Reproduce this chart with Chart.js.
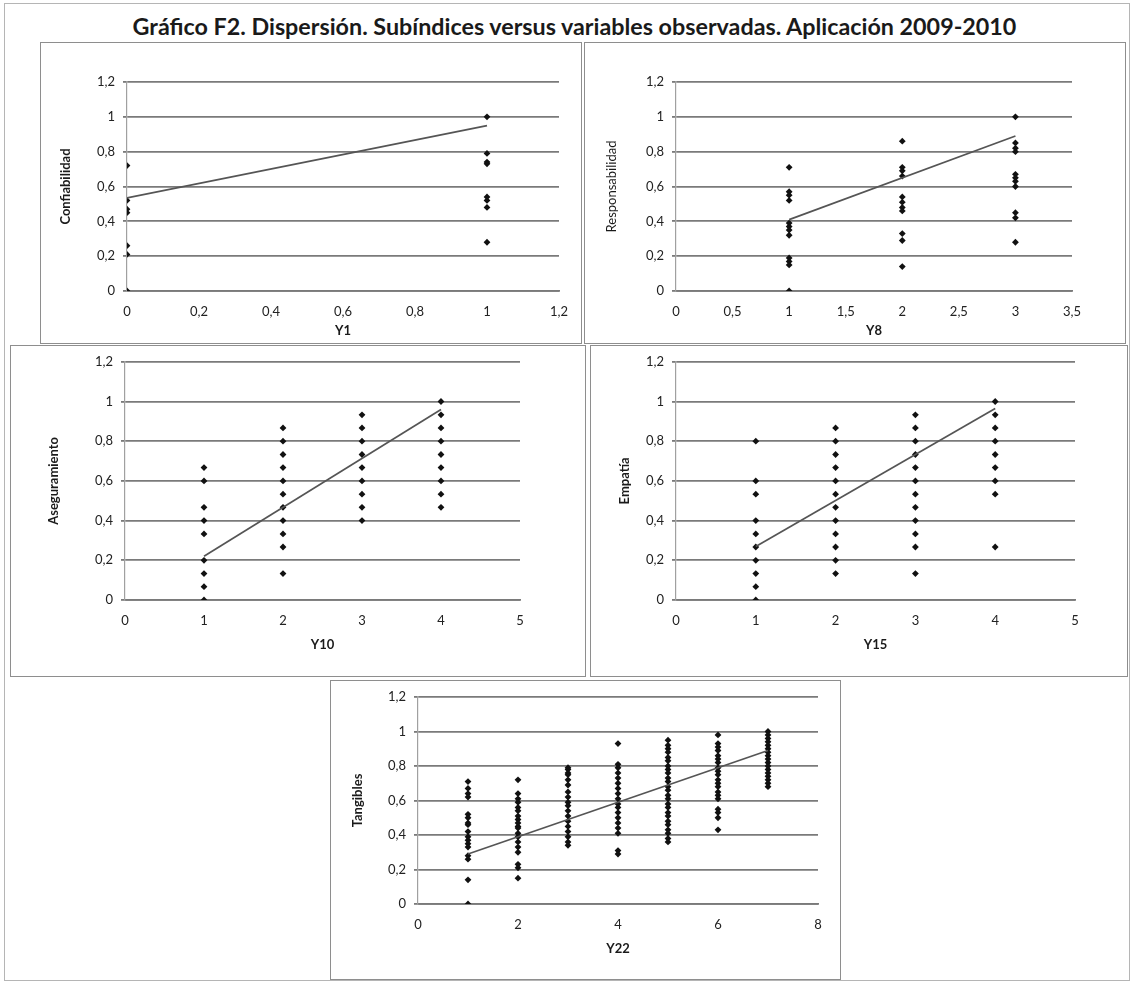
<!DOCTYPE html>
<html>
<head>
<meta charset="utf-8">
<script src="https://cdn.jsdelivr.net/npm/chart.js@4.4.1/dist/chart.umd.min.js"></script>
<style>
  html, body { margin: 0; padding: 0; background: #fff; }
  body { width: 1133px; height: 983px; position: relative; overflow: hidden; font-family: Lato, "Open Sans", sans-serif; }
  #frame { position: absolute; left: 4px; top: 3px; width: 1124px; height: 976px; border: 1px solid #b5b5b5; }
  #title { position: absolute; left: 8px; top: 12px; width: 1133px; text-align: center; font-weight: bold; font-size: 23.3px; color: #1a1a1a; }
  .panel { position: absolute; border: 1px solid #8e8e8e; background: #fff; }
  .panel canvas { display: block; }
</style>
</head>
<body>
<div id="frame"></div>
<div id="title">Gráfico F2. Dispersión. Subíndices versus variables observadas. Aplicación 2009-2010</div>

<script>
// ======================================
// DATOS
// ======================================

// Confiabilidad vs Y1
const y1Levels = [0, 1];
const confiabilidad = [
    [0.72, 0.52, 0.47, 0.45, 0.26, 0.21, 0],
    [1, 0.79, 0.74, 0.73, 0.54, 0.52, 0.48, 0.28]
];
const confiabilidadTrend = [0.535, 0.95];

// Responsabilidad vs Y8
const y8Levels = [1, 2, 3];
const responsabilidad = [
    [0.71, 0.57, 0.55, 0.52, 0.39, 0.37, 0.35, 0.32, 0.19, 0.17, 0.15, 0],
    [0.86, 0.71, 0.69, 0.66, 0.54, 0.51, 0.48, 0.46, 0.33, 0.29, 0.14],
    [1, 0.85, 0.82, 0.8, 0.67, 0.65, 0.63, 0.6, 0.45, 0.42, 0.28]
];
const responsabilidadTrend = [0.41, 0.89];

// Aseguramiento vs Y10
const y10Levels = [1, 2, 3, 4];
const aseguramiento = [
    [0.667, 0.6, 0.467, 0.4, 0.333, 0.2, 0.133, 0.067, 0],
    [0.867, 0.8, 0.733, 0.667, 0.6, 0.533, 0.467, 0.4, 0.333, 0.267, 0.133],
    [0.933, 0.867, 0.8, 0.733, 0.667, 0.6, 0.533, 0.467, 0.4],
    [1, 0.933, 0.867, 0.8, 0.733, 0.667, 0.6, 0.533, 0.467]
];
const aseguramientoTrend = [0.22, 0.96];

// Empatía vs Y15
const y15Levels = [1, 2, 3, 4];
const empatia = [
    [0.8, 0.6, 0.533, 0.4, 0.333, 0.267, 0.2, 0.133, 0.067, 0],
    [0.867, 0.8, 0.733, 0.667, 0.6, 0.533, 0.467, 0.4, 0.333, 0.267, 0.2, 0.133],
    [0.933, 0.867, 0.8, 0.733, 0.667, 0.6, 0.533, 0.467, 0.4, 0.333, 0.267, 0.133],
    [1, 0.933, 0.867, 0.8, 0.733, 0.667, 0.6, 0.533, 0.267]
];
const empatiaTrend = [0.27, 0.965];

// Tangibles vs Y22
const y22Levels = [1, 2, 3, 4, 5, 6, 7];
const tangibles = [
    [0.71, 0.67, 0.64, 0.62, 0.52, 0.5, 0.47, 0.46, 0.42, 0.39, 0.37, 0.35, 0.33, 0.28, 0.26, 0.14, 0],
    [0.72, 0.64, 0.61, 0.59, 0.56, 0.54, 0.51, 0.49, 0.47, 0.45, 0.44, 0.41, 0.39, 0.36, 0.33, 0.3, 0.23, 0.21, 0.15],
    [0.79, 0.78, 0.76, 0.75, 0.72, 0.69, 0.65, 0.62, 0.59, 0.57, 0.54, 0.51, 0.48, 0.45, 0.42, 0.39, 0.36, 0.34],
    [0.93, 0.81, 0.79, 0.76, 0.73, 0.7, 0.67, 0.64, 0.61, 0.58, 0.56, 0.53, 0.5, 0.47, 0.44, 0.41, 0.31, 0.29],
    [0.95, 0.92, 0.9, 0.88, 0.85, 0.83, 0.8, 0.78, 0.76, 0.73, 0.71, 0.68, 0.66, 0.63, 0.61, 0.58, 0.56, 0.53, 0.51, 0.48, 0.46, 0.43, 0.41, 0.38, 0.36],
    [0.98, 0.93, 0.91, 0.89, 0.86, 0.84, 0.82, 0.79, 0.77, 0.75, 0.72, 0.7, 0.68, 0.65, 0.63, 0.61, 0.55, 0.53, 0.5, 0.43],
    [1, 0.98, 0.96, 0.94, 0.92, 0.9, 0.88, 0.86, 0.84, 0.82, 0.8, 0.78, 0.76, 0.74, 0.72, 0.7, 0.68]
];
const tangiblesTrend = [0.29, 0.89];

// escalas
const yMax = 1.2;
const yStep = 0.2;

// ======================================
// PANELES (posición en la página)
// ======================================
const panels = [
    { levels: y1Levels, values: confiabilidad, trend: confiabilidadTrend, xMax: 1.2, xStep: 0.2,
      xTitle: 'Y1', yTitle: 'Confiabilidad', yBold: true,
      box: { l: 40, t: 42, w: 542, h: 302 }, plot: { l: 127, r: 559, t: 82, b: 291 }, xTitleY: 331, yTitleX: 66 },
    { levels: y8Levels, values: responsabilidad, trend: responsabilidadTrend, xMax: 3.5, xStep: 0.5,
      xTitle: 'Y8', yTitle: 'Responsabilidad', yBold: false,
      box: { l: 584, t: 42, w: 542, h: 302 }, plot: { l: 676, r: 1072, t: 82, b: 291 }, xTitleY: 331, yTitleX: 612 },
    { levels: y10Levels, values: aseguramiento, trend: aseguramientoTrend, xMax: 5, xStep: 1,
      xTitle: 'Y10', yTitle: 'Aseguramiento', yBold: true,
      box: { l: 10, t: 345, w: 576, h: 332 }, plot: { l: 125, r: 520, t: 358, b: 600 }, xTitleY: 645, yTitleX: 54 },
    { levels: y15Levels, values: empatia, trend: empatiaTrend, xMax: 5, xStep: 1,
      xTitle: 'Y15', yTitle: 'Empatía', yBold: true,
      box: { l: 590, t: 345, w: 538, h: 332 }, plot: { l: 676, r: 1075, t: 358, b: 600 }, xTitleY: 645, yTitleX: 625 },
    { levels: y22Levels, values: tangibles, trend: tangiblesTrend, xMax: 8, xStep: 2,
      xTitle: 'Y22', yTitle: 'Tangibles', yBold: true,
      box: { l: 330, t: 680, w: 511, h: 300 }, plot: { l: 418, r: 818, t: 697, b: 904 }, xTitleY: 949, yTitleX: 358 }
];

// ======================================
// HELPERS
// ======================================
function formatComma(value) {
    return String(Math.round(value * 10) / 10).replace('.', ',');
}

function buildPoints(levels, values) {
    const pts = [];
    levels.forEach((x, i) => values[i].forEach(y => pts.push({ x: x, y: y })));
    return pts;
}

function makePanel(p) {
    const div = document.createElement('div');
    div.className = 'panel';
    div.style.left = p.box.l + 'px';
    div.style.top = p.box.t + 'px';
    const cw = p.box.w - 2, ch = p.box.h - 2;
    const canvas = document.createElement('canvas');
    canvas.width = cw; canvas.height = ch;
    canvas.style.width = cw + 'px'; canvas.style.height = ch + 'px';
    div.appendChild(canvas);
    document.body.appendChild(div);

    // coordenadas relativas al canvas
    const ox = p.box.l + 1, oy = p.box.t + 1;
    const plotL = p.plot.l - ox, plotR = p.plot.r - ox;
    const plotT = p.plot.t - oy, plotB = p.plot.b - oy;
    const titleFontSize = 13;

    const xFirst = p.levels[0], xLast = p.levels[p.levels.length - 1];

    return new Chart(canvas.getContext('2d'), {
        type: 'scatter',
        data: {
            datasets: [
                {
                    label: 'Tendencia',
                    data: [{ x: xFirst, y: p.trend[0] }, { x: xLast, y: p.trend[1] }],
                    showLine: true,
                    borderColor: '#555',
                    borderWidth: 1.7,
                    pointRadius: 0
                },
                {
                    label: p.yTitle,
                    data: buildPoints(p.levels, p.values),
                    pointStyle: 'rectRot',
                    pointRadius: 3.4,
                    backgroundColor: '#111',
                    borderColor: '#111',
                    borderWidth: 0
                }
            ]
        },
        options: {
            responsive: false,
            animation: false,
            events: [],
            layout: { padding: { top: plotT, right: cw - plotR, left: 0, bottom: 0 } },
            plugins: { legend: { display: false }, tooltip: { enabled: false }, title: { display: false } },
            scales: {
                x: {
                    type: 'linear', min: 0, max: p.xMax,
                    ticks: { stepSize: p.xStep, callback: formatComma, color: '#222',
                             font: { family: 'Lato', size: 13 }, padding: 5, maxRotation: 0 },
                    grid: { display: false },
                    border: { display: true, color: '#7a7a7a', width: 1.8 },
                    title: { display: true, text: p.xTitle, color: '#1a1a1a',
                             font: { family: 'Lato', size: titleFontSize, weight: 'bold' },
                             padding: { top: 0, bottom: ch - (p.xTitleY - oy) - titleFontSize * 0.6 } },
                    afterFit: scale => { scale.height = ch - plotB; }
                },
                y: {
                    type: 'linear', min: 0, max: yMax,
                    ticks: { stepSize: yStep, callback: formatComma, color: '#222',
                             font: { family: 'Lato', size: 13 }, padding: 8 },
                    grid: { color: '#7a7a7a', lineWidth: 1.8, tickLength: 4, drawTicks: true },
                    border: { display: true, color: '#a0a0a0', width: 1.2 },
                    title: { display: true, text: p.yTitle, color: '#1a1a1a',
                             font: { family: 'Lato', size: titleFontSize, weight: p.yBold ? 'bold' : 'normal' },
                             padding: { top: (p.yTitleX - ox) - titleFontSize * 0.6, bottom: 0 } },
                    afterFit: scale => { scale.width = plotL; }
                }
            }
        }
    });
}

document.addEventListener('DOMContentLoaded', function() {
    panels.forEach(p => {
        try {
            makePanel(p);
        } catch (e) {
            console.error('Error en panel ' + p.yTitle, e);
        }
    });
});
</script>
</body>
</html>
